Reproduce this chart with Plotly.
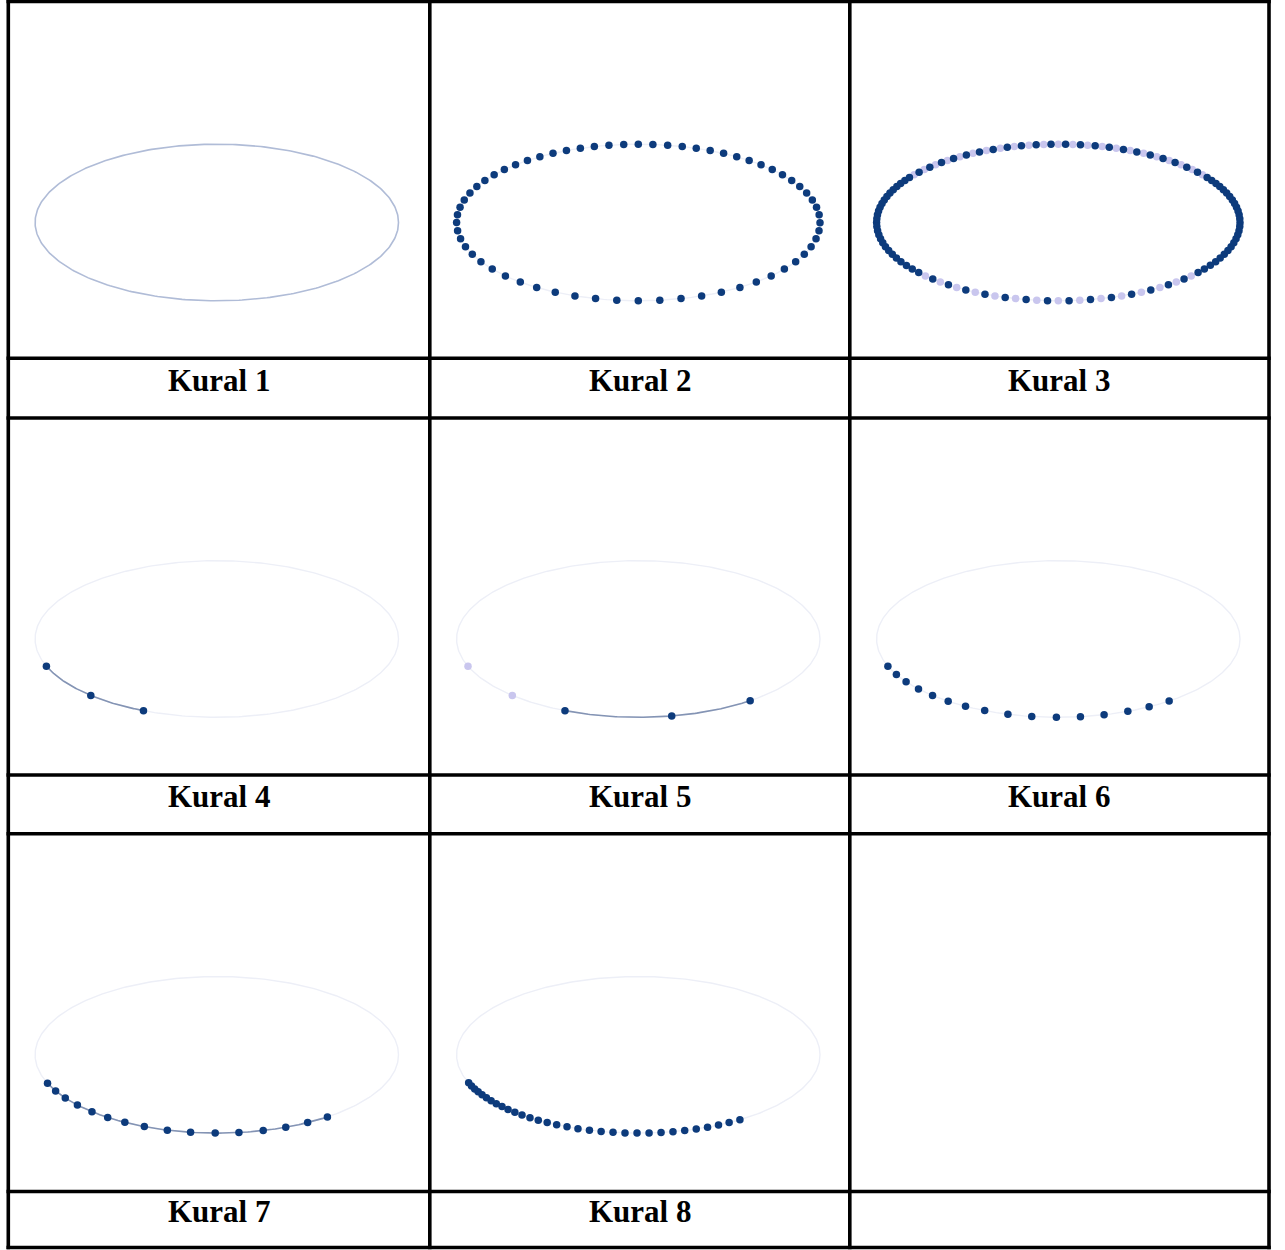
import numpy as np
import plotly.graph_objects as go

# dot angles on the ring, degrees (0 = right end, 90 = bottom, 270 = top)
ring_a = [0.2, 6, 12, 18, 24, 30, 36.5, 43, 49.5, 56, 62.8, 69.6, 76.4, 83.2, 90,
          96.8, 103.6, 110.4, 117.2, 124, 130.5, 137, 143.5, 150, 156, 162, 168, 174, 180,
          185.6, 191.2, 196.7, 202.1, 207.3, 212.4, 217.5, 222.5, 227.5, 232.4, 237.2,
          242.0, 246.7, 251.4, 256.0, 260.7, 265.4, 270, 274.6, 279.3, 284.0, 288.6,
          293.3, 298.0, 302.8, 307.6, 312.5, 317.5, 322.5, 327.6, 332.7, 337.9, 343.3,
          348.8, 354.4]
ring_b = [3, 9, 15, 21, 27, 33.2, 39.7, 46.2, 52.7, 59.4, 66.2, 73, 79.8, 86.6, 93.4,
          100.2, 107, 113.8, 120.6, 127.2, 133.7, 140.2, 146.7, 153, 159, 165, 171, 177,
          182.8, 188.4, 194, 199.4, 204.7, 209.8, 215, 220, 225, 230, 234.8, 239.6, 244.3,
          249, 253.7, 258.3, 263, 267.7, 272.3, 277, 281.7, 286.3, 291, 295.6, 300.4,
          305.2, 310, 315, 320, 325, 330.2, 335.3, 340.6, 346, 351.6, 357.2]
rule4 = [159.7, 133.9, 113.8]
rule5_old = [159.6, 133.9]
rule5 = [113.8, 79.4, 52.0]
rule6 = [159.7, 153.0, 146.9, 140.3, 133.8, 127.3, 120.7, 113.9, 106.1, 98.4, 90.6,
         83.0, 75.4, 67.5, 60.0, 52.4]
rule7 = [158.7, 152.5, 146.5, 140.1, 133.4, 126.9, 120.4, 113.5, 105.8, 98.3, 90.5,
         83.0, 75.2, 67.7, 60.0, 52.5]
rule8 = [56, 60, 63.8, 67.6, 71.4, 75.2, 79, 82.8, 86.6, 90.4, 94.2, 98, 101.8, 105.6,
         109.4, 113.1, 116.7, 120.1, 123.4, 126.6, 129.8, 132.8, 135.8, 138.6, 141.4,
         144.1, 146.7, 149.3, 151.8, 154.2, 156.6, 159]
labels = ["Kural 1", "Kural 2", "Kural 3", "Kural 4", "Kural 5", "Kural 6",
          "Kural 7", "Kural 8", ""]

W, H = 1285, 1250
col_x = [8.3, 429.8, 849.8, 1269]
row_y = [1.5, 358.3, 418, 775, 833.8, 1191.5, 1247.5]
RX, RY = 181.7, 78.3      # ellipse half axes, px
OX, OY = 208.5, 221       # ellipse centre from cell's top-left line
DARK = "#0D3B7C"
LIGHT = "#C9C6EE"
FAINT = "#EDEFF7"
ARC = "#8494B4"
DOT = 7.5


def ell(deg):
    t = np.radians(np.asarray(deg, dtype=float))
    return RX * np.cos(t), RY * np.sin(t)


def full_ring():
    return ell(np.linspace(0, 360, 361))


def arc(d0, d1):
    return ell(np.linspace(d0, d1, 120))


# per cell: (outline colour, arc range, light dots, dark dots)
panels = [
    ("#B0BCD7", None, [], []),
    (FAINT, None, [], ring_a),
    (FAINT, None, ring_a, ring_b),
    (FAINT, (rule4[0], rule4[-1]), [], rule4),
    (FAINT, (rule5[0], rule5[-1]), rule5_old, rule5),
    (FAINT, None, [], rule6),
    (FAINT, (rule7[0], rule7[-1]), [], rule7),
    (FAINT, None, [], rule8),
]

fig = go.Figure()
layout = {}
for k, (outline, arc_rng, light, dark) in enumerate(panels):
    col, row = k % 3, k // 3
    x0, x1 = col_x[col], col_x[col + 1]
    y0, y1 = row_y[2 * row], row_y[2 * row + 1]
    sfx = "" if k == 0 else str(k + 1)
    xa, ya = "x" + sfx, "y" + sfx
    layout["xaxis" + sfx] = dict(domain=[x0 / W, x1 / W], range=[-OX, x1 - x0 - OX],
                                 visible=False, fixedrange=True)
    layout["yaxis" + sfx] = dict(domain=[1 - y1 / H, 1 - y0 / H],
                                 range=[y1 - y0 - OY, -OY], visible=False, fixedrange=True)

    ex, ey = full_ring()
    w = 1.6 if k == 0 else 1.4
    fig.add_trace(go.Scatter(x=ex, y=ey, mode="lines", line=dict(color=outline, width=w),
                             xaxis=xa, yaxis=ya, hoverinfo="skip"))
    if arc_rng:
        ax_, ay_ = arc(*arc_rng)
        fig.add_trace(go.Scatter(x=ax_, y=ay_, mode="lines", line=dict(color=ARC, width=1.6),
                                 xaxis=xa, yaxis=ya, hoverinfo="skip"))
    if light:
        lx, ly = ell(light)
        # on the tight ends of the ring the dots merge into a dark chain
        cols = [DARK if abs(np.cos(np.radians(a))) > 0.8 and k == 2 else LIGHT for a in light]
        fig.add_trace(go.Scatter(x=lx, y=ly, mode="markers",
                                 marker=dict(color=cols, size=DOT, line=dict(width=0)),
                                 xaxis=xa, yaxis=ya, cliponaxis=False))
    if dark:
        dx, dy = ell(dark)
        fig.add_trace(go.Scatter(x=dx, y=dy, mode="markers",
                                 marker=dict(color=DARK, size=DOT, line=dict(width=0)),
                                 xaxis=xa, yaxis=ya, cliponaxis=False))

shapes = []
LW = 3.6
for x in col_x:
    shapes.append(dict(type="line", xref="paper", yref="paper", x0=x / W, x1=x / W,
                       y0=1 - (row_y[0] - LW / 2) / H, y1=1 - (row_y[-1] + LW / 2) / H,
                       line=dict(color="black", width=LW)))
for y in row_y:
    shapes.append(dict(type="line", xref="paper", yref="paper",
                       x0=(col_x[0] - LW / 2) / W, x1=(col_x[-1] + LW / 2) / W,
                       y0=1 - y / H, y1=1 - y / H, line=dict(color="black", width=LW)))

annotations = []
for k, text in enumerate(labels):
    if not text:
        continue
    col, row = k % 3, k // 3
    cx = (col_x[col] + col_x[col + 1]) / 2
    cy = (row_y[2 * row + 1] + row_y[2 * row + 2]) / 2 - 8
    annotations.append(dict(text=text, x=cx / W, y=1 - cy / H, xref="paper", yref="paper",
                            xanchor="center", yanchor="middle", showarrow=False,
                            font=dict(family="Liberation Serif", size=31, color="black",
                                      weight="bold")))

fig.update_layout(
    width=W, height=H, margin=dict(l=0, r=0, t=0, b=0),
    paper_bgcolor="white", plot_bgcolor="white", showlegend=False,
    shapes=shapes, annotations=annotations, **layout,
)
fig.write_html("out.html", config={"displayModeBar": False},
               post_script="document.body.style.margin='0';")
